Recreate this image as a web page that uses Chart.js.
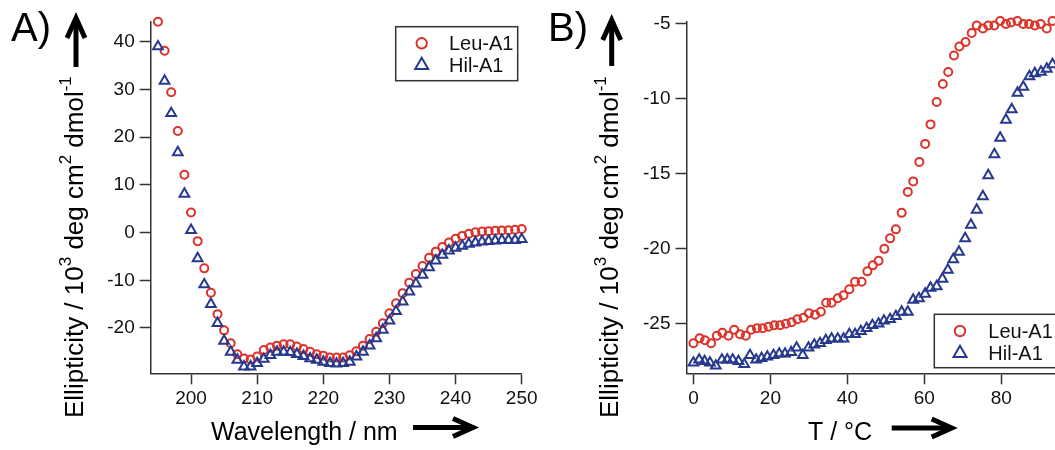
<!DOCTYPE html>
<html>
<head>
<meta charset="utf-8">
<script src="https://cdn.jsdelivr.net/npm/chart.js"></script>
<style>
  html, body { margin: 0; padding: 0; background: #fff; overflow: hidden; width: 1055px; height: 450px; }
  .panel { position: absolute; top: 0; }
  .panel canvas { display: block; }
  #panelA { left: 0; }
  #panelB { left: 540px; }
</style>
</head>
<body>
<div class="panel" id="panelA"><canvas id="cdChart" width="545" height="450"></canvas></div>
<div class="panel" id="panelB"><canvas id="meltChart" width="560" height="450"></canvas></div>
<script>
// A) CD spectra, one reading per nm
const wavelengths = [195, 196, 197, 198, 199, 200, 201, 202, 203, 204, 205, 206, 207, 208, 209, 210,
  211, 212, 213, 214, 215, 216, 217, 218, 219, 220, 221, 222, 223, 224, 225, 226, 227, 228, 229, 230,
  231, 232, 233, 234, 235, 236, 237, 238, 239, 240, 241, 242, 243, 244, 245, 246, 247, 248, 249, 250];
const leuSpectrum = [44.2, 38.1, 29.4, 21.3, 12.1, 4.2, -1.8, -7.5, -12.6, -17.1, -20.5, -23.2, -25.5, -26.4, -26.6, -26.0,
  -24.6, -24.1, -23.7, -23.4, -23.4, -23.9, -24.4, -25.0, -25.5, -25.8, -26.2, -26.2, -26.2, -25.7, -24.9, -23.7, -22.3, -20.8, -19.0, -16.9,
  -14.8, -12.7, -10.5, -8.7, -7.0, -5.3, -4.0, -3.0, -2.1, -1.3, -0.7, -0.25, 0.04, 0.2, 0.3, 0.4, 0.45, 0.5, 0.6, 0.73];
const hilSpectrum = [39.0, 31.8, 25.0, 16.8, 8.1, 0.5, -5.4, -10.9, -15.0, -19.0, -22.7, -25.0, -26.7, -28.1, -28.1, -27.4,
  -26.5, -25.7, -25.0, -25.0, -25.1, -25.5, -25.9, -26.4, -26.7, -27.1, -27.4, -27.5, -27.4, -27.1, -26.0, -25.0, -23.7, -22.2, -20.4, -18.5,
  -16.5, -14.5, -12.4, -10.7, -8.9, -7.3, -5.9, -4.7, -3.8, -3.2, -2.8, -2.4, -2.1, -1.9, -1.8, -1.7, -1.6, -1.6, -1.6, -1.4];
const spectrumXTicks = [200, 210, 220, 230, 240, 250];
const spectrumYTicks = [-20, -10, 0, 10, 20, 30, 40];

// B) thermal unfolding at 222 nm
const leuTemps = [0, 1.6, 3.0, 4.6, 6.1, 7.5, 9.1, 10.6, 12.1, 13.6, 15.0, 16.5, 18.0, 19.5, 21.0, 22.5,
  24.0, 25.5, 27.0, 28.6, 30.0, 31.6, 33.1, 34.5, 35.9, 37.5, 39.0, 40.5, 42.0, 43.7, 45.2, 46.6,
  48.1, 49.6, 51.1, 52.6, 54.1, 55.7, 57.1, 58.7, 60.2, 61.6, 63.2, 64.8, 66.2, 67.7, 69.1, 70.7,
  72.3, 73.6, 75.2, 76.6, 78.2, 79.7, 81.2, 82.5, 84.2, 85.7, 87.2, 88.7, 90.2, 91.8, 93.3];
const leuMelt = [-26.3, -25.96, -26.1, -26.3, -25.8, -25.6, -25.8, -25.4, -25.7, -25.8, -25.4, -25.3, -25.3, -25.2, -25.1, -25.1,
  -25.0, -24.9, -24.7, -24.6, -24.3, -24.4, -24.2, -23.6, -23.6, -23.3, -23.1, -22.7, -22.2, -22.2, -21.5, -21.1,
  -20.8, -20.0, -19.3, -18.7, -17.6, -16.2, -15.5, -14.2, -13.0, -11.7, -10.2, -9.0, -8.2, -7.1, -6.5, -6.2,
  -5.6, -5.1, -5.3, -5.1, -5.1, -4.8, -5.0, -4.9, -4.8, -5.0, -5.0, -5.1, -5.0, -5.3, -4.8];
const hilTemps = [0, 1.5, 2.9, 4.3, 5.8, 7.4, 8.8, 10.2, 11.7, 13.2, 14.7, 16.3, 17.7, 19.2, 20.8, 22.3,
  23.8, 25.4, 26.8, 28.4, 29.9, 31.4, 32.9, 34.4, 35.9, 37.5, 39.0, 40.5, 42.0, 43.5, 45.0, 46.5,
  48.1, 49.5, 51.1, 52.6, 54.1, 55.7, 57.1, 58.6, 60.2, 61.6, 63.2, 64.7, 66.1, 67.5, 69.0, 70.6,
  72.1, 73.6, 75.2, 76.6, 78.2, 79.7, 81.2, 82.7, 84.2, 85.7, 87.3, 88.7, 90.3, 91.8, 93.3];
const hilMelt = [-27.6, -27.4, -27.5, -27.6, -27.8, -27.4, -27.4, -27.4, -27.5, -27.7, -27.1, -27.4, -27.3, -27.2, -27.1, -27.0,
  -27.0, -26.9, -26.6, -27.1, -26.6, -26.4, -26.3, -26.1, -26.0, -26.0, -26.0, -25.7, -25.7, -25.5, -25.3, -25.1,
  -25.0, -24.8, -24.7, -24.5, -24.2, -24.2, -23.4, -23.3, -23.0, -22.6, -22.5, -22.0, -21.4, -20.7, -20.2, -19.3,
  -18.4, -17.4, -16.5, -15.1, -13.7, -12.6, -11.4, -10.7, -9.6, -9.2, -8.5, -8.3, -8.2, -8.0, -7.7];
const meltXTicks = [0, 20, 40, 60, 80, 100];
const meltYTicks = [-25, -20, -15, -10, -5];

const seriesNames = ['Leu-A1', 'Hil-A1'];

const FONT = '"Liberation Sans", Arial, Helvetica, sans-serif';
const RED = '#dc3229';
const BLUE = '#27398f';
const AXIS = '#333';
Chart.defaults.font.family = FONT;

// y title pieces: [text, superscript?]
const yTitleParts = [['Ellipticity / 10', false], ['3', true], [' deg cm', false], ['2', true], [' dmol', false], ['-1', true]];

function pairs(xs, ys) {
  return xs.map((x, i) => ({ x: x, y: ys[i] }));
}

function leuSet(data) {
  return { label: seriesNames[0], data: data, showLine: false, order: 1, clip: false,
    pointStyle: 'circle', pointRadius: 4, pointBorderWidth: 2,
    pointBorderColor: RED, pointBackgroundColor: 'rgba(0,0,0,0)', legendRadius: 5.2 };
}
function hilSet(data) {
  return { label: seriesNames[1], data: data, showLine: false, order: 0, clip: false,
    pointStyle: 'triangle', pointRadius: 5.6, pointBorderWidth: 2,
    pointBorderColor: BLUE, pointBackgroundColor: 'rgba(0,0,0,0)', legendRadius: 7.5 };
}

function axis(ticks, min, max, size, isX) {
  return {
    type: 'linear', min: min, max: max,
    position: isX ? 'bottom' : 'left',
    border: { display: true, color: AXIS, width: 1.5 },
    grid: { drawOnChartArea: false, drawTicks: true, tickLength: 11, tickColor: AXIS, tickWidth: 1.5 },
    ticks: { color: '#111', font: { size: 19 }, padding: isX ? 3 : 5, maxRotation: 0, autoSkip: false },
    afterBuildTicks: s => { s.ticks = ticks.map(v => ({ value: v })); },
    afterFit: s => { if (isX) s.height = size; else s.width = size; }
  };
}

function marker(ctx, style, x, y, r) {
  ctx.beginPath();
  if (style === 'triangle') {
    ctx.moveTo(x, y - r);
    ctx.lineTo(x + r * Math.sin(2 * Math.PI / 3), y + r / 2);
    ctx.lineTo(x - r * Math.sin(2 * Math.PI / 3), y + r / 2);
    ctx.closePath();
  } else {
    ctx.arc(x, y, r, 0, 2 * Math.PI);
  }
  ctx.stroke();
}

// thick arrow with a chevron head
function arrow(ctx, x0, y0, x1, y1) {
  const a = Math.atan2(y1 - y0, x1 - x0);
  const head = 20, half = 9;
  ctx.save();
  ctx.strokeStyle = '#000';
  ctx.lineWidth = 5;
  ctx.lineJoin = 'miter';
  ctx.lineCap = 'butt';
  ctx.beginPath();
  ctx.moveTo(x0, y0);
  ctx.lineTo(x1 - 3 * Math.cos(a), y1 - 3 * Math.sin(a));
  ctx.stroke();
  ctx.beginPath();
  ctx.moveTo(x1 - head * Math.cos(a) + half * Math.sin(a), y1 - head * Math.sin(a) - half * Math.cos(a));
  ctx.lineTo(x1, y1);
  ctx.lineTo(x1 - head * Math.cos(a) - half * Math.sin(a), y1 - head * Math.sin(a) + half * Math.cos(a));
  ctx.stroke();
  ctx.restore();
}

// panel letter, axis titles and direction arrows
const panelDecor = {
  id: 'panelDecor',
  afterDraw(chart, args, o) {
    const ctx = chart.ctx;
    ctx.save();
    ctx.fillStyle = '#000';
    ctx.textAlign = 'left';
    ctx.textBaseline = 'alphabetic';
    ctx.font = '40px ' + FONT;
    ctx.fillText(o.letter, o.letterX, o.letterY);

    ctx.save();
    ctx.translate(o.yTitleX, o.yTitleY);
    ctx.rotate(-Math.PI / 2);
    let pos = 0;
    yTitleParts.forEach(([txt, sup]) => {
      ctx.font = (sup ? '17px ' : '26px ') + FONT;
      ctx.fillText(txt, pos, sup ? -12 : 0);
      pos += ctx.measureText(txt).width;
    });
    ctx.restore();
    arrow(ctx, o.upX, o.upBottom, o.upX, o.upTop);

    ctx.font = '25px ' + FONT;
    ctx.fillText(o.xTitle, o.xTitleX, o.xTitleY);
    arrow(ctx, o.rightX0, o.rightY, o.rightX1, o.rightY);
    ctx.restore();
  }
};

// framed legend placed inside the plot
const boxLegend = {
  id: 'boxLegend',
  afterDraw(chart, args, o) {
    const ctx = chart.ctx;
    ctx.save();
    ctx.fillStyle = '#fff';
    ctx.fillRect(o.x, o.y, o.w, o.h);
    ctx.strokeStyle = AXIS;
    ctx.lineWidth = 1.5;
    ctx.strokeRect(o.x, o.y, o.w, o.h);
    ctx.font = '20px ' + FONT;
    ctx.textBaseline = 'middle';
    ctx.textAlign = 'left';
    [chart.data.datasets[0], chart.data.datasets[1]].forEach((ds, i) => {
      const cy = o.row0 + i * o.rowGap;
      ctx.strokeStyle = ds.pointBorderColor;
      ctx.lineWidth = 2;
      marker(ctx, ds.pointStyle, o.markerX, cy, ds.legendRadius);
      ctx.fillStyle = '#111';
      ctx.fillText(ds.label, o.textX, cy + 1);
    });
    ctx.restore();
  }
};

new Chart(document.getElementById('cdChart'), {
  type: 'scatter',
  data: { datasets: [leuSet(pairs(wavelengths, leuSpectrum)), hilSet(pairs(wavelengths, hilSpectrum))] },
  options: {
    responsive: false,
    animation: false,
    events: [],
    layout: { padding: { left: 0, top: 21.7, right: 23.3, bottom: 0 } },
    scales: {
      x: axis(spectrumXTicks, 193.9, 250, 76.7, true),
      y: axis(spectrumYTicks, -29.5, 44.2, 150.7, false)
    },
    plugins: {
      legend: { display: false },
      tooltip: { enabled: false },
      panelDecor: { letter: 'A)', letterX: 11, letterY: 41, yTitleX: 83, yTitleY: 418,
        upX: 76, upTop: 18, upBottom: 67, xTitle: 'Wavelength / nm', xTitleX: 211, xTitleY: 440,
        rightX0: 413, rightX1: 473, rightY: 427.5 },
      boxLegend: { x: 395.7, y: 26.7, w: 122, h: 54, markerX: 421.7, textX: 449, row0: 43.3, rowGap: 22 }
    }
  },
  plugins: [panelDecor, boxLegend]
});

new Chart(document.getElementById('meltChart'), {
  type: 'scatter',
  data: { datasets: [leuSet(pairs(leuTemps, leuMelt)), hilSet(pairs(hilTemps, hilMelt))] },
  options: {
    responsive: false,
    animation: false,
    events: [],
    layout: { padding: { left: 0, top: 21.7, right: 21.7, bottom: 0 } },
    scales: {
      x: axis(meltXTicks, -1.8, 100, 76.7, true),
      y: axis(meltYTicks, -28.3, -4.85, 146.5, false)
    },
    plugins: {
      legend: { display: false },
      tooltip: { enabled: false },
      panelDecor: { letter: 'B)', letterX: 8, letterY: 41, yTitleX: 78, yTitleY: 418,
        upX: 71.7, upTop: 20, upBottom: 66, xTitle: 'T / \u00b0C', xTitleX: 268, xTitleY: 440,
        rightX0: 351.7, rightX1: 411.7, rightY: 428 },
      boxLegend: { x: 394.3, y: 314.3, w: 150, h: 53.4, markerX: 420, textX: 448.3, row0: 331, rowGap: 22.3 }
    }
  },
  plugins: [panelDecor, boxLegend]
});
</script>
</body>
</html>
